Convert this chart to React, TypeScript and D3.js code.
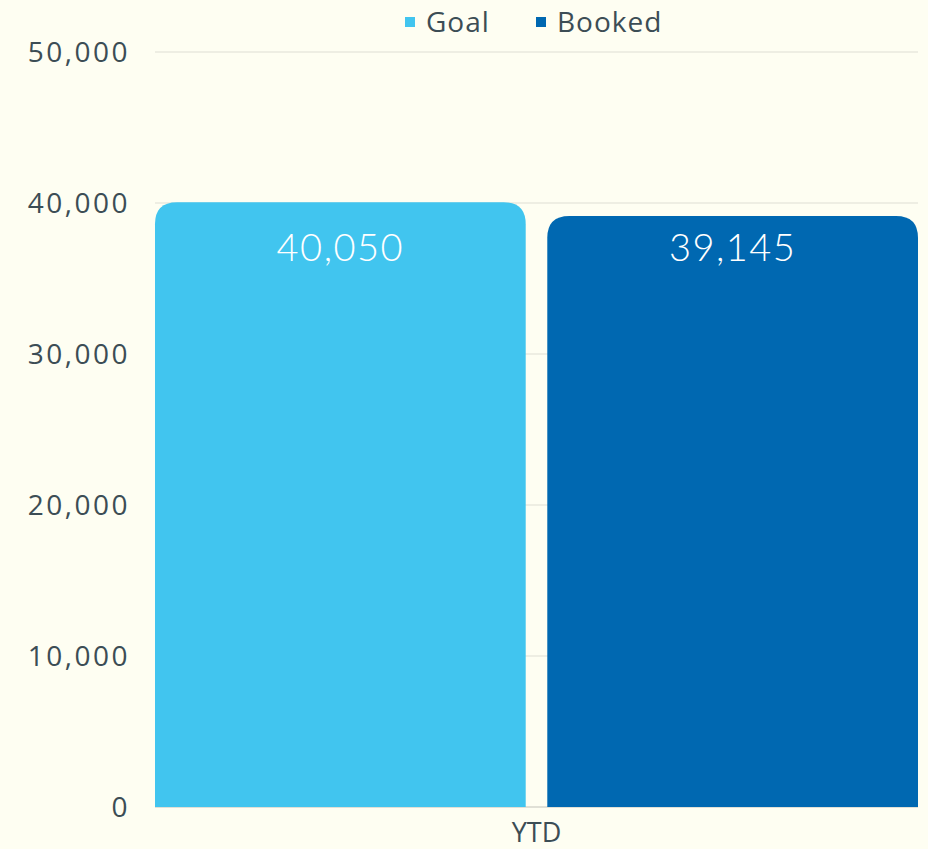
import * as d3 from "d3";
import React from "react";

const categories = ["YTD"];
const seriesNames = ["Goal", "Booked"];
const goalValues = [40050];
const bookedValues = [39145];
const yTicks = [0, 10000, 20000, 30000, 40000, 50000];

const colors = ["#41c5ef", "#0068b1"];
const W = 928;
const H = 849;
const textColor = "#3c4d55";
const sans = "'Open Sans', 'Noto Sans', sans-serif";

function topRoundedRect(x: number, y: number, w: number, h: number, r: number) {
	const rr = Math.min(r, w / 2, h);
	return `M${x},${y + h}V${y + rr}Q${x},${y} ${x + rr},${y}H${x + w - rr}Q${x + w},${y} ${x + w},${y + rr}V${y + h}Z`;
}

export default function App() {
	const svgRef = React.useRef<SVGSVGElement>(null);

	React.useEffect(() => {
		if (!svgRef.current) return;
		const svg = d3.select(svgRef.current);
		svg.selectAll("*").remove();

		const margin = { top: 52, right: 10, bottom: 42, left: 155 };
		const plotRight = W - margin.right;
		const plotBottom = H - margin.bottom;

		const y = d3.scaleLinear().domain([0, 50000]).range([plotBottom, margin.top]);
		const x0 = d3
			.scaleBand<string>()
			.domain(categories)
			.range([margin.left, plotRight])
			.paddingInner(0)
			.paddingOuter(0);
		const x1 = d3
			.scaleBand<string>()
			.domain(seriesNames)
			.range([0, x0.bandwidth()])
			.paddingInner(0.055)
			.paddingOuter(0);

		svg.append("rect").attr("width", W).attr("height", H).attr("fill", "#fefef2");

		// gridlines
		svg
			.append("g")
			.selectAll("line")
			.data(yTicks)
			.join("line")
			.attr("x1", margin.left)
			.attr("x2", plotRight)
			.attr("y1", (d) => y(d))
			.attr("y2", (d) => y(d))
			.attr("stroke", (d) => (d === 0 ? "#d6d6cc" : "#e9e9de"))
			.attr("stroke-width", 1.5);

		// y labels
		svg
			.append("g")
			.selectAll("text")
			.data(yTicks)
			.join("text")
			.attr("x", 130)
			.attr("y", (d) => y(d))
			.attr("dy", "0.35em")
			.attr("text-anchor", "end")
			.attr("font-family", sans)
			.attr("font-size", 28)
			.attr("letter-spacing", 2.5)
			.attr("fill", textColor)
			.text((d) => d3.format(",")(d));

		// bars
		const series = [goalValues, bookedValues];
		categories.forEach((cat, ci) => {
			seriesNames.forEach((name, si) => {
				const v = series[si][ci];
				const bx = (x0(cat) ?? 0) + (x1(name) ?? 0);
				const bw = x1.bandwidth();
				const by = y(v);
				svg
					.append("path")
					.attr("d", topRoundedRect(bx, by, bw, plotBottom - by, 22))
					.attr("fill", colors[si]);
				svg
					.append("text")
					.attr("x", bx + bw / 2)
					.attr("y", 248)
					.attr("dy", "0.35em")
					.attr("text-anchor", "middle")
					.attr("font-family", "Lato, sans-serif")
					.attr("font-weight", 300)
					.attr("font-size", 38)
					.attr("letter-spacing", 1.5)
					.attr("fill", "#ffffff")
					.text(d3.format(",")(v));
			});
			svg
				.append("text")
				.attr("x", (x0(cat) ?? 0) + x0.bandwidth() / 2)
				.attr("y", 842)
				.attr("text-anchor", "middle")
				.attr("font-family", sans)
				.attr("font-size", 27)
				.attr("fill", textColor)
				.text(cat);
		});

		// legend
		const legendX = [405, 536];
		seriesNames.forEach((name, i) => {
			svg
				.append("rect")
				.attr("x", legendX[i])
				.attr("y", 17)
				.attr("width", 10)
				.attr("height", 10)
				.attr("fill", colors[i]);
			svg
				.append("text")
				.attr("x", legendX[i] + 21)
				.attr("y", 22)
				.attr("dy", "0.35em")
				.attr("font-family", sans)
				.attr("font-size", 28)
				.attr("letter-spacing", 1)
				.attr("fill", textColor)
				.text(name);
		});
	}, []);

	return (
		<div style={{ position: "absolute", left: 0, top: 0, width: W, height: H }}>
			<svg ref={svgRef} width={W} height={H} style={{ display: "block" }} />
		</div>
	);
}
